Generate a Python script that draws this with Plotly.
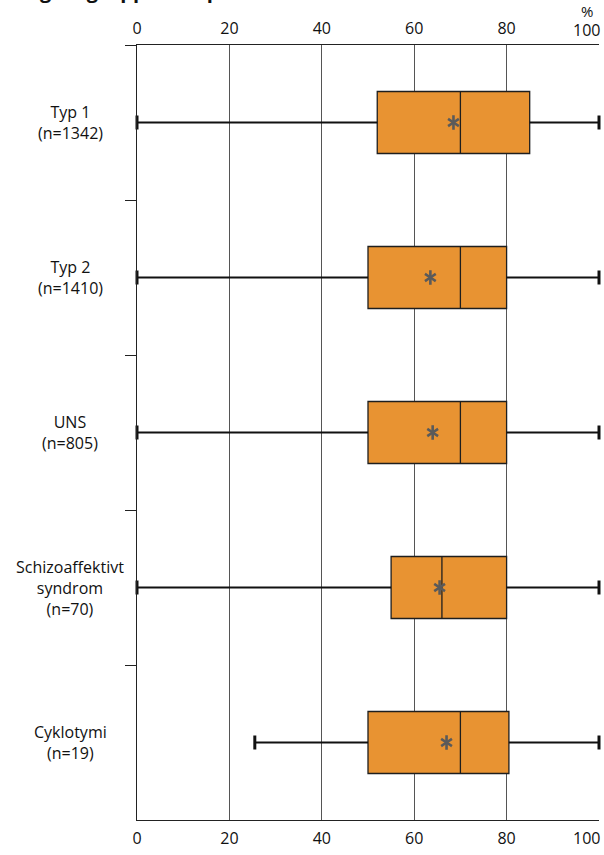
import plotly.graph_objects as go

# Diagnosis groups and their distribution (percent scale)
groups = ["Typ 1<br>(n=1342)", "Typ 2<br>(n=1410)", "UNS<br>(n=805)",
          "Schizoaffektivt<br>syndrom<br>(n=70)", "Cyklotymi<br>(n=19)"]
group_keys = ["Typ 1", "Typ 2", "UNS", "Schizoaffektivt", "Cyklotymi"]
whisker_low = [0, 0, 0, 0, 25.5]
q1 = [52, 50, 50, 55, 50]
median = [70, 70, 70, 66, 70]
q3 = [85, 80, 80, 80, 80.5]
whisker_high = [100, 100, 100, 100, 100]
mean = [68.5, 63.5, 64, 65.5, 67]
x_ticks = [0, 20, 40, 60, 80]
x_end = 100

BOX_FILL = "#E89332"
FONT = "Open Sans"

fig = go.Figure()

# whisker lines
for k, lo, a, b, hi in zip(group_keys, whisker_low, q1, q3, whisker_high):
    fig.add_trace(go.Scatter(
        x=[lo, a, None, b, hi], y=[k, k, None, k, k], mode="lines",
        line=dict(color="#111111", width=2), showlegend=False,
        hoverinfo="skip", cliponaxis=False))

# whisker caps
fig.add_trace(go.Scatter(
    x=whisker_low + whisker_high, y=group_keys + group_keys, mode="markers",
    marker=dict(symbol="line-ns", size=10, line=dict(color="#111111", width=3)),
    showlegend=False, hoverinfo="skip", cliponaxis=False))

# boxes with median line
fig.add_trace(go.Box(
    y=group_keys, q1=q1, median=median, q3=q3,
    lowerfence=q1, upperfence=q3, orientation="h",
    fillcolor=BOX_FILL, line=dict(color="#1e1e1e", width=1.3),
    width=0.4, whiskerwidth=0, boxpoints=False, showlegend=False,
    hoverinfo="skip"))

# mean markers (six-armed asterisk)
for sym in ["y-up-open", "y-down-open"]:
    fig.add_trace(go.Scatter(
        x=mean, y=group_keys, mode="markers",
        marker=dict(symbol=sym, size=9, color="#5a5a5a",
                    line=dict(color="#5a5a5a", width=2.6)),
        showlegend=False, hoverinfo="skip"))

# invisible trace that carries the bottom axis
fig.add_trace(go.Scatter(x=[0, 100], y=[group_keys[0], group_keys[0]], xaxis="x2",
                         mode="markers", marker=dict(opacity=0), showlegend=False,
                         hoverinfo="skip"))

tick_font = dict(family=FONT, size=16, color="#111111")
axis_common = dict(
    range=[0, 100], tickvals=x_ticks + [x_end],
    ticktext=[str(v) for v in x_ticks] + [""],
    showgrid=True, gridcolor="#555555", gridwidth=1, zeroline=False,
    showline=True, linecolor="#222222", linewidth=1.2, ticks="",
    tickfont=tick_font,
)

n = len(group_keys)
fig.update_layout(
    width=604, height=855,
    margin=dict(l=137, r=5, t=45, b=35),
    paper_bgcolor="white", plot_bgcolor="white",
    xaxis=dict(side="top", **axis_common, ticklabelstandoff=4),
    xaxis2=dict(side="bottom", overlaying="x", matches="x", **axis_common,
                ticklabelstandoff=4),
    yaxis=dict(type="category", categoryorder="array", categoryarray=group_keys,
               range=[n - 0.5, -0.5], autorange=False,
               showticklabels=False, tickson="boundaries",
               ticks="outside", ticklen=11, tickcolor="#222222", tickwidth=1,
               showline=True, linecolor="#222222", linewidth=1.2,
               showgrid=False, zeroline=False),
    font=dict(family=FONT, color="#111111"),
)

# end-of-scale labels, kept inside the page
fig.add_annotation(x=x_end, xref="x", y=1, yref="paper", yshift=2, xshift=3,
                   text=str(x_end), showarrow=False, xanchor="right", yanchor="bottom",
                   font=tick_font)
fig.add_annotation(x=x_end, xref="x", y=0, yref="paper", yshift=-5, xshift=3,
                   text=str(x_end), showarrow=False, xanchor="right", yanchor="top",
                   font=tick_font)

# group labels, centred to the left of the plot
for k, label in zip(group_keys, groups):
    fig.add_annotation(x=-0.145, xref="paper", y=k, yref="y", text=label,
                       showarrow=False, align="center", xanchor="center",
                       yanchor="middle", font=dict(family=FONT, size=16, color="#111111"))

# unit labels
fig.add_annotation(x=x_end, xref="x", y=1, yref="paper", yshift=22, xshift=-12,
                   text="%", showarrow=False, xanchor="center", yanchor="bottom",
                   font=dict(family=FONT, size=15, color="#111111"))
fig.add_annotation(x=x_end, xref="x", y=0, yref="paper", yshift=-29, xshift=-12,
                   text="%", showarrow=False, xanchor="center", yanchor="top",
                   font=dict(family=FONT, size=15, color="#111111"))

# heading, mostly above the page
fig.add_annotation(x=-0.285, xref="paper", y=1, yref="paper", yshift=39,
                   text="<b>Diagnosgruppernas procentuella nivå</b>",
                   showarrow=False, xanchor="left", yanchor="bottom",
                   font=dict(family=FONT, size=20, color="#111111"))

fig.write_html("out.html")
